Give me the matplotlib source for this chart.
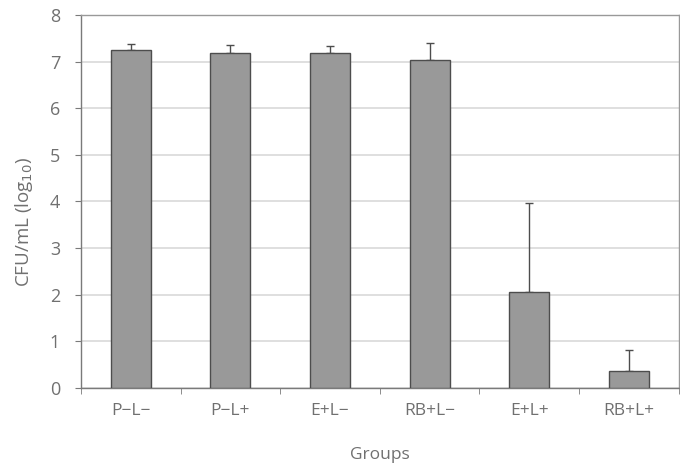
import matplotlib.pyplot as plt
import numpy as np

groups = ["P\u2212L\u2212", "P\u2212L+", "E+L\u2212", "RB+L\u2212", "E+L+", "RB+L+"]
means = [7.24, 7.18, 7.19, 7.04, 2.06, 0.36]
sd_up = [0.13, 0.17, 0.15, 0.36, 1.90, 0.46]

plt.rcParams['font.family'] = ['Open Sans', 'DejaVu Sans']
txt = '#707070'
axc = '#7a7a7a'

fig = plt.figure(figsize=(6.8, 4.68), dpi=100)
ax = fig.add_axes([0.119, 0.171, 0.879, 0.797])

x = np.arange(len(groups))
ax.bar(x, means, width=0.4, color='#999999', edgecolor='#4d4d4d', linewidth=1.0, zorder=3)
ax.errorbar(x, means, yerr=[np.zeros(len(means)), sd_up], fmt='none',
            ecolor='#4d4d4d', elinewidth=1.0, capsize=3, capthick=1.0, zorder=2)

ax.set_xlim(-0.5, len(groups) - 0.5)
ax.set_ylim(0, 8)
ax.set_yticks(range(0, 9))
ax.yaxis.grid(True, color='#d9d9d9', linewidth=1.2, zorder=0)
ax.set_axisbelow(True)

ax.set_xticks(x)
ax.set_xticklabels(groups)
ax.set_xticks(np.arange(-0.5, len(groups)), minor=True)
ax.tick_params(axis='x', which='major', length=0, pad=11, labelsize=12.5, labelcolor=txt)
ax.tick_params(axis='x', which='minor', length=4, color=axc, direction='out')
ax.tick_params(axis='y', length=4, color=axc, labelsize=13, labelcolor=txt, pad=11)

for s in ax.spines.values():
    s.set_color(axc)
    s.set_linewidth(1.0)
ax.spines['top'].set_color('#999999')
ax.spines['right'].set_color('#999999')

ax.set_ylabel("CFU/mL (log$_{10}$)", color=txt, fontsize=13.5)
ax.yaxis.set_label_coords(-0.076, 0.446)
ax.set_xlabel("Groups", color=txt, fontsize=12.5, labelpad=20)

fig.savefig("out.png", dpi=100, facecolor='white')
